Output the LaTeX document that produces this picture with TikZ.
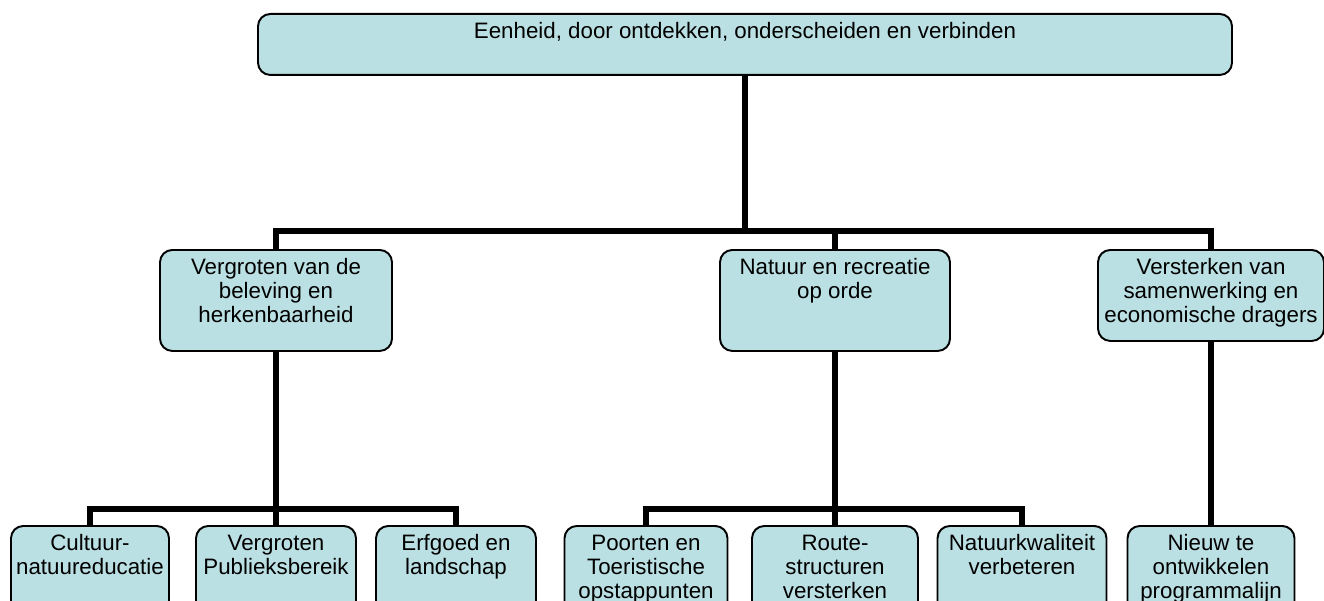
\documentclass[tikz,border=0pt]{standalone}
\usepackage{fontspec}
\setmainfont{Liberation Sans}
\usepackage{tikz}
\definecolor{boxfill}{RGB}{187,224,227}
\newlength\pxu
\setlength\pxu{0.02cm}
\newcommand{\orgtext}[3]{%
  \parbox[c][\dimexpr #2\pxu-8pt\relax][t]{#1\pxu}{\centering\strut #3}}
\tikzset{
  orgbox/.style={
    draw=black,
    line width=1.1pt,
    rounded corners=7pt,
    fill=boxfill,
    anchor=north,
    inner xsep=0pt,
    inner ysep=4pt,
    font=\fontsize{12.7}{13.9}\selectfont
  },
  link/.style={
    line width=3pt,
    line join=miter
  },
}

\begin{document}
\begin{tikzpicture}[x=0.02cm,y=-0.02cm]
  \useasboundingbox (0,0) rectangle (1324,601);
  \clip (0,0) rectangle (1324,601);
  % top level
  \node[orgbox] (top) at (745,13) {\orgtext{974}{61}{Eenheid, door ontdekken, onderscheiden en verbinden}};
  % second level
  \node[orgbox] (A) at (276,249) {\orgtext{232}{101}{Vergroten van de\\beleving en\\herkenbaarheid}};
  \node[orgbox] (B) at (835,249) {\orgtext{230}{101}{Natuur en recreatie\\op orde}};
  \node[orgbox] (C) at (1211,249) {\orgtext{226}{91}{Versterken van\\samenwerking en\\economische dragers}};
  % third level
  \node[orgbox] (c1) at (90,525) {\orgtext{158}{100}{Cultuur-\\natuureducatie}};
  \node[orgbox] (c2) at (276,525) {\orgtext{160}{100}{Vergroten\\Publieksbereik}};
  \node[orgbox] (c3) at (456,525) {\orgtext{160}{100}{Erfgoed en\\landschap}};
  \node[orgbox] (c4) at (646,525) {\orgtext{163}{100}{Poorten en\\Toeristische\\opstappunten}};
  \node[orgbox] (c5) at (835,525) {\orgtext{166}{100}{Route-\\structuren\\versterken}};
  \node[orgbox] (c6) at (1022,525) {\orgtext{169}{100}{Natuurkwaliteit\\verbeteren}};
  \node[orgbox] (c7) at (1211,525) {\orgtext{167}{100}{Nieuw te\\ontwikkelen\\programmalijn}};
  % connectors
  \coordinate (bar0) at (745,231);
  \coordinate (bar1) at (276,509);
  \coordinate (bar2) at (835,509);
  \draw[link] (top.south) -- (bar0);
  \draw[link] (A.north) |- (bar0) -| (C.north);
  \draw[link] (B.north) -- (B.north |- bar0);
  \draw[link] (A.south) -- (bar1);
  \draw[link] (c1.north) |- (bar1) -| (c3.north);
  \draw[link] (c2.north) -- (bar1);
  \draw[link] (B.south) -- (bar2);
  \draw[link] (c4.north) |- (bar2) -| (c6.north);
  \draw[link] (c5.north) -- (bar2);
  \draw[link] (C.south) -- (c7.north);
\end{tikzpicture}
\end{document}
